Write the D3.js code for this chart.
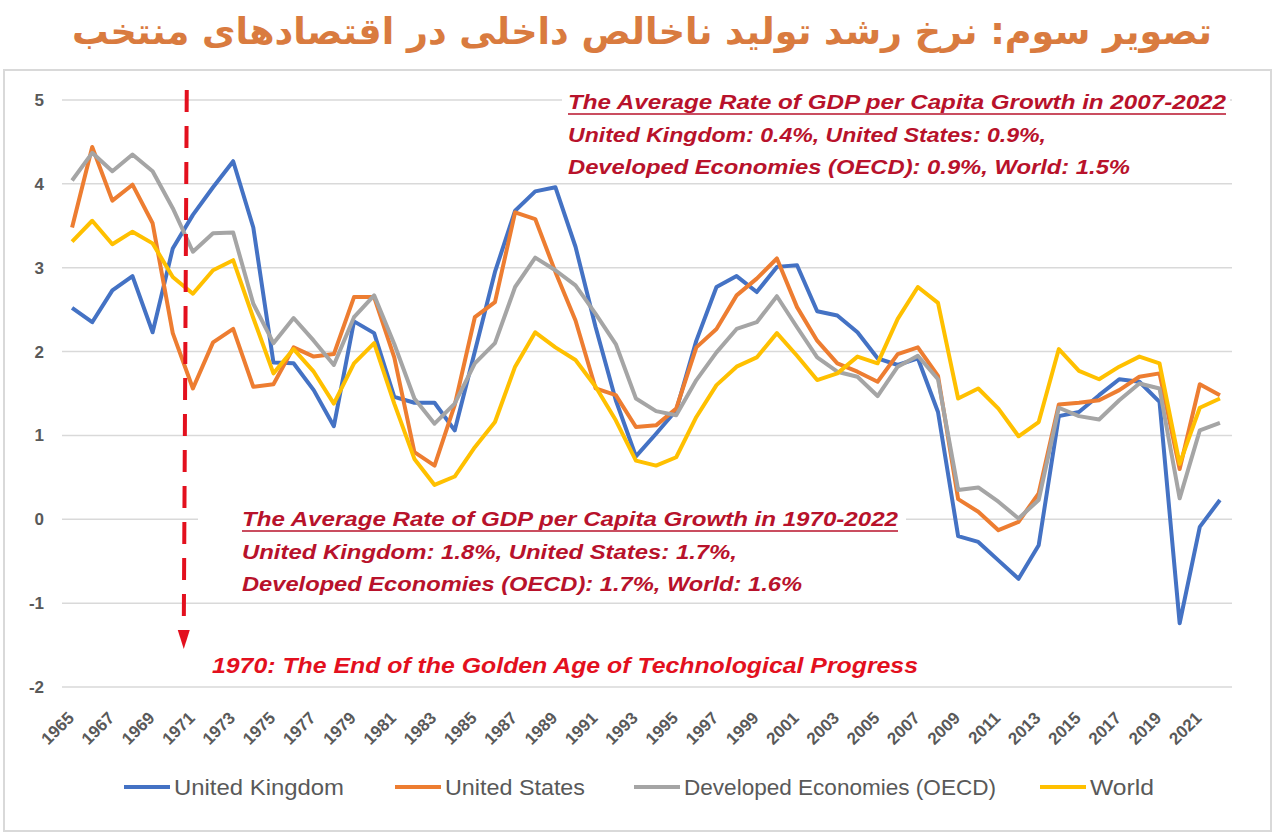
<!DOCTYPE html>
<html>
<head>
<meta charset="utf-8">
<script src="https://cdn.jsdelivr.net/npm/d3@7"></script>
<style>
  body { margin: 0; background: #fff; }
  svg { display: block; }
</style>
</head>
<body>
<div id="chart"></div>
<script>
// years on the category axis
const years = d3.range(1965, 2023)
const yTicks = [-2, -1, 0, 1, 2, 3, 4, 5]

const seriesNames = ["United Kingdom", "United States", "Developed Economies (OECD)", "World"]
const seriesColors = ["#4472c4", "#ed7d31", "#a5a5a5", "#ffc000"]

// GDP per capita growth (%)
const ukValues = [2.52, 2.35, 2.73, 2.90, 2.23, 3.23, 3.63, 3.96, 4.27, 3.48,
    1.87, 1.86, 1.54, 1.11, 2.36, 2.22, 1.46, 1.39, 1.39, 1.06,
    2.00, 2.95, 3.68, 3.91, 3.96, 3.25, 2.29, 1.42, 0.75, 1.02,
    1.30, 2.13, 2.77, 2.90, 2.71, 3.01, 3.03, 2.48, 2.43, 2.23,
    1.92, 1.84, 1.92, 1.28, -0.20, -0.27, -0.49, -0.71, -0.31, 1.23,
    1.28, 1.48, 1.67, 1.64, 1.40, -1.24, -0.09, 0.23]
const usValues = [3.48, 4.44, 3.80, 3.99, 3.53, 2.22, 1.56, 2.11, 2.27, 1.58,
    1.61, 2.05, 1.94, 1.97, 2.65, 2.65, 1.93, 0.80, 0.64, 1.36,
    2.41, 2.59, 3.66, 3.58, 2.95, 2.37, 1.56, 1.48, 1.10, 1.12,
    1.32, 2.05, 2.27, 2.67, 2.87, 3.11, 2.53, 2.13, 1.86, 1.76,
    1.64, 1.97, 2.05, 1.71, 0.24, 0.09, -0.13, -0.03, 0.31, 1.37,
    1.39, 1.42, 1.54, 1.70, 1.74, 0.60, 1.61, 1.48]
const oecdValues = [4.04, 4.37, 4.15, 4.35, 4.15, 3.71, 3.19, 3.41, 3.42, 2.57,
    2.10, 2.40, 2.13, 1.84, 2.41, 2.67, 2.09, 1.44, 1.14, 1.38,
    1.86, 2.10, 2.77, 3.12, 2.97, 2.79, 2.45, 2.09, 1.44, 1.29,
    1.24, 1.66, 1.99, 2.27, 2.35, 2.66, 2.29, 1.93, 1.76, 1.70,
    1.47, 1.82, 1.95, 1.67, 0.35, 0.38, 0.21, 0.01, 0.23, 1.33,
    1.23, 1.19, 1.42, 1.62, 1.56, 0.25, 1.06, 1.15]
const worldValues = [3.31, 3.56, 3.28, 3.43, 3.29, 2.89, 2.69, 2.97, 3.09, 2.40,
    1.74, 2.03, 1.76, 1.38, 1.86, 2.10, 1.38, 0.72, 0.41, 0.51,
    0.86, 1.16, 1.82, 2.23, 2.05, 1.90, 1.58, 1.18, 0.70, 0.64,
    0.74, 1.22, 1.60, 1.82, 1.93, 2.22, 1.95, 1.66, 1.74, 1.94,
    1.86, 2.39, 2.77, 2.58, 1.44, 1.56, 1.32, 0.99, 1.16, 2.03,
    1.77, 1.67, 1.82, 1.94, 1.86, 0.66, 1.33, 1.44]

const titleText = "تصویر سوم: نرخ رشد تولید ناخالص داخلی در اقتصادهای منتخب"
const noteTop = ["The Average Rate of GDP per Capita Growth in 2007-2022",
    "United Kingdom: 0.4%, United States: 0.9%,",
    "Developed Economies (OECD): 0.9%, World: 1.5%"]
const noteBottom = ["The Average Rate of GDP per Capita Growth in 1970-2022",
    "United Kingdom: 1.8%, United States: 1.7%,",
    "Developed Economies (OECD): 1.7%, World: 1.6%"]
const noteMarker = "1970: The End of the Golden Age of Technological Progress"
const markerYear = 1970

document.addEventListener("DOMContentLoaded", draw)

function draw(){
    const width = 1280
    const height = 835
    const allValues = [ukValues, usValues, oecdValues, worldValues]

    const svg = d3.select("#chart").append("svg")
        .attr("width", width)
        .attr("height", height)

    // outer frame
    svg.append("rect")
        .attr("x", 4).attr("y", 70)
        .attr("width", 1267).attr("height", 761)
        .attr("fill", "#fff")
        .attr("stroke", "#d9d9d9")
        .attr("stroke-width", 2)

    // title (plain text, browser handles the right-to-left shaping)
    svg.append("text")
        .attr("x", 642).attr("y", 44)
        .attr("text-anchor", "middle")
        .attr("font-family", "DejaVu Sans")
        .attr("font-weight", "bold")
        .attr("font-size", 36.5)
        .attr("fill", "#d97b3f")
        .text(titleText)

    const x = d3.scaleBand().domain(years).range([62, 1230])
    const xc = d => x(d) + x.bandwidth() / 2
    const y = d3.scaleLinear().domain([-2, 5]).range([687, 100])

    // grid
    svg.append("g")
        .selectAll("line")
        .data(yTicks)
        .enter()
        .append("line")
        .attr("x1", 62).attr("x2", 1232)
        .attr("y1", d => y(d)).attr("y2", d => y(d))
        .attr("stroke", "#d9d9d9")
        .attr("stroke-width", 1.5)

    // y axis labels
    svg.append("g")
        .selectAll("text")
        .data(yTicks)
        .enter()
        .append("text")
        .attr("x", 44)
        .attr("y", d => y(d) + 6)
        .attr("text-anchor", "end")
        .attr("font-family", "Liberation Sans")
        .attr("font-weight", "bold")
        .attr("font-size", 17)
        .attr("fill", "#595959")
        .text(d => d)

    // x axis labels, every second year
    svg.append("g")
        .selectAll("text")
        .data(years.filter((d, i) => i % 2 === 0))
        .enter()
        .append("text")
        .attr("transform", d => "translate(" + (xc(d) + 3) + ",719) rotate(-45)")
        .attr("text-anchor", "end")
        .attr("font-family", "Liberation Sans")
        .attr("font-weight", "bold")
        .attr("font-size", 17)
        .attr("fill", "#595959")
        .text(d => d)

    // white boxes behind the notes
    svg.append("rect").attr("x", 562).attr("y", 88).attr("width", 668).attr("height", 92).attr("fill", "#fff")
    svg.append("rect").attr("x", 198).attr("y", 502).attr("width", 708).attr("height", 96).attr("fill", "#fff")

    // series lines
    const line = d3.line()
        .x((d, i) => xc(years[i]))
        .y(d => y(d))
    svg.append("g")
        .selectAll("path")
        .data(allValues)
        .enter()
        .append("path")
        .attr("d", d => line(d))
        .attr("fill", "none")
        .attr("stroke", (d, i) => seriesColors[i])
        .attr("stroke-width", 4)
        .attr("stroke-linejoin", "round")

    // notes
    const topWidths = [658, 478, 562]
    const botWidths = [656, 495, 560]
    drawNote(svg, noteTop, 568, 109, topWidths)
    drawNote(svg, noteBottom, 242, 526, botWidths)

    // 1970 marker: dashed line with arrow
    const mx = xc(markerYear) + 14
    svg.append("line")
        .attr("x1", mx).attr("x2", mx - 3)
        .attr("y1", 90).attr("y2", 632)
        .attr("stroke", "#e3101e")
        .attr("stroke-width", 4)
        .attr("stroke-dasharray", "22,14")
    svg.append("path")
        .attr("d", "M" + (mx - 9) + ",630 L" + (mx + 3) + ",630 L" + (mx - 3) + ",649 Z")
        .attr("fill", "#e3101e")

    svg.append("text")
        .attr("x", 212).attr("y", 673)
        .attr("font-family", "Liberation Sans")
        .attr("font-weight", "bold")
        .attr("font-style", "italic")
        .attr("font-size", 22)
        .attr("fill", "#e3101e")
        .attr("textLength", 706)
        .attr("lengthAdjust", "spacingAndGlyphs")
        .text(noteMarker)

    // legend
    const legendX = [124, 395, 634, 1040]
    const legendW = [170, 140, 312, 64]
    const legend = svg.append("g")
        .selectAll("g")
        .data(seriesNames)
        .enter()
        .append("g")
        .attr("transform", (d, i) => "translate(" + legendX[i] + ",787)")
    legend.append("line")
        .attr("x1", 0).attr("x2", 46)
        .attr("stroke", (d, i) => seriesColors[i])
        .attr("stroke-width", 4)
    legend.append("text")
        .attr("x", 50).attr("y", 8)
        .attr("font-family", "Liberation Sans")
        .attr("font-size", 22)
        .attr("fill", "#595959")
        .attr("textLength", (d, i) => legendW[i])
        .attr("lengthAdjust", "spacingAndGlyphs")
        .text(d => d)
}

function drawNote(svg, lines, x0, y0, widths){
    lines.forEach((t, i) => {
        svg.append("text")
            .attr("x", x0).attr("y", y0 + i * 32.5)
            .attr("font-family", "Liberation Sans")
            .attr("font-weight", "bold")
            .attr("font-style", "italic")
            .attr("font-size", 21)
            .attr("fill", "#b8122b")
            .attr("textLength", widths[i])
            .attr("lengthAdjust", "spacingAndGlyphs")
            .text(t)
    })
    svg.append("line")
        .attr("x1", x0).attr("x2", x0 + widths[0])
        .attr("y1", y0 + 5).attr("y2", y0 + 5)
        .attr("stroke", "#b8122b")
        .attr("stroke-width", 1.5)
}
</script>
</body>
</html>
